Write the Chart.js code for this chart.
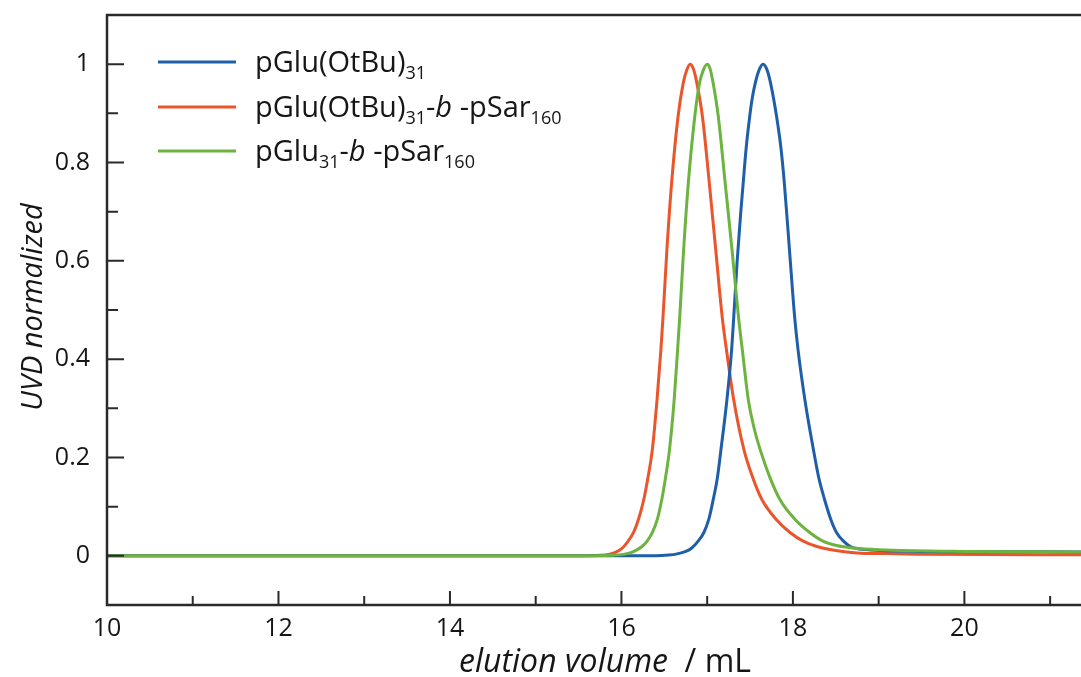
<!DOCTYPE html>
<html><head><meta charset="utf-8">
<script src="https://cdn.jsdelivr.net/npm/chart.js@4.4.1/dist/chart.umd.min.js"></script>
<style>html,body{margin:0;padding:0;background:#fff;overflow:hidden}#wrap{width:1081px;height:677px}</style>
</head><body><div id="wrap"><canvas id="c" width="1081" height="677"></canvas></div>
<script>
// ---- data ----
const xTicks = [10, 12, 14, 16, 18, 20];
const xMinorTicks = [11, 13, 15, 17, 19, 21];
const yTicks = [0, 0.2, 0.4, 0.6, 0.8, 1];
const yTickLabels = ['0', '0.2', '0.4', '0.6', '0.8', '1'];
const yMinorTicks = [0.1, 0.3, 0.5, 0.7, 0.9];
const xRange = [10, 21.36];
const yRange = [-0.1, 1.1];

const seriesNames = ['pGlu(OtBu)31', 'pGlu(OtBu)31-b -pSar160', 'pGlu31-b -pSar160'];

// pGlu(OtBu)31 (blue)
const blueX = [10, 16.4, 16.55, 16.65, 16.75, 16.82, 16.89, 16.96, 17.02, 17.07, 17.12, 17.16, 17.23, 17.285, 17.31, 17.35, 17.39, 17.42, 17.455, 17.49, 17.525, 17.56, 17.605, 17.65,
               17.695, 17.74, 17.81, 17.86, 17.90, 17.96, 18.02, 18.06, 18.14, 18.24, 18.30, 18.37, 18.44, 18.51, 18.59, 18.67, 18.78, 18.9, 19.5, 21.4];
const blueY = [0, 0, 0.0015, 0.004, 0.009, 0.016, 0.029, 0.047, 0.075, 0.114, 0.16, 0.215, 0.317, 0.419, 0.486, 0.60, 0.695, 0.758, 0.83, 0.885, 0.93, 0.961, 0.988, 1.0,
               0.99, 0.961, 0.893, 0.83, 0.758, 0.622, 0.486, 0.419, 0.317, 0.215, 0.16, 0.114, 0.075, 0.047, 0.03, 0.019, 0.014, 0.012, 0.009, 0.008];

// pGlu(OtBu)31-b-pSar160 (red)
const redX = [10, 15.5, 15.75, 15.85, 15.93, 16.0, 16.07, 16.14, 16.2, 16.26, 16.31, 16.36, 16.415, 16.46, 16.485, 16.53, 16.585, 16.66, 16.72, 16.76, 16.80,
              16.84, 16.88, 16.945, 17.025, 17.10, 17.175, 17.225, 17.31, 17.43, 17.53, 17.64, 17.8, 17.97, 18.12, 18.28, 18.5, 18.75, 19.1, 19.5, 21.4];
const redY = [0, 0, 0.001, 0.003, 0.007, 0.014, 0.028, 0.047, 0.075, 0.114, 0.16, 0.215, 0.317, 0.419, 0.486, 0.622, 0.758, 0.893, 0.961, 0.987, 1.0,
              0.99, 0.961, 0.893, 0.758, 0.622, 0.486, 0.419, 0.317, 0.215, 0.16, 0.114, 0.075, 0.047, 0.03, 0.019, 0.011, 0.006, 0.0045, 0.003, 0.002];

// pGlu31-b-pSar160 (green)
const greenX = [10, 15.7, 15.9, 16.02, 16.1, 16.17, 16.24, 16.3, 16.36, 16.42, 16.47, 16.515, 16.56, 16.615, 16.655, 16.68, 16.725, 16.78, 16.855, 16.91, 16.955, 17.0,
                17.035, 17.07, 17.13, 17.21, 17.29, 17.365, 17.41, 17.48, 17.55, 17.62, 17.73, 17.85, 18.02, 18.20, 18.35, 18.51, 18.7, 19.0, 20, 21.4];
const greenY = [0, 0, 0.001, 0.003, 0.006, 0.011, 0.019, 0.03, 0.047, 0.075, 0.114, 0.16, 0.215, 0.317, 0.419, 0.486, 0.622, 0.758, 0.893, 0.961, 0.988, 1.0,
                0.99, 0.961, 0.893, 0.758, 0.622, 0.486, 0.419, 0.317, 0.258, 0.215, 0.16, 0.114, 0.075, 0.047, 0.03, 0.021, 0.016, 0.0125, 0.009, 0.008];

const colors = ['#1f5ea8', '#ea552c', '#6cb33f'];

// legend text runs (subscripts / italics)
const legendRuns = [
  [{t:'pGlu(OtBu)'}, {t:'31', sub:true}],
  [{t:'pGlu(OtBu)'}, {t:'31', sub:true}, {t:'-'}, {t:'b', i:true}, {t:' -pSar'}, {t:'160', sub:true}],
  [{t:'pGlu'}, {t:'31', sub:true}, {t:'-'}, {t:'b', i:true}, {t:' -pSar'}, {t:'160', sub:true}]
];
const xTitleRuns = [{t:'elution volume', i:true}, {t:'  / mL'}];
const yTitle = 'UVD normalized';

// ---- build ----
const FAMILY = '"Open Sans", "DejaVu Sans", sans-serif';
const INK = '#161616';
const toPts = (xs, ys) => xs.map((x, k) => ({x, y: ys[k]}));

function drawRuns(ctx, runs, x, y, size, subSize, subOff, align) {
  const font = r => `${r.i ? 'italic ' : ''}${r.sub ? subSize : size}px ${FAMILY}`;
  let total = 0;
  const ws = runs.map(r => { ctx.font = font(r); const w = ctx.measureText(r.t).width; total += w; return w; });
  if (align === 'center') x -= total / 2;
  runs.forEach((r, k) => {
    ctx.font = font(r);
    ctx.fillText(r.t, x, y + (r.sub ? subOff : 0));
    x += ws[k];
  });
}

const framePlugin = {
  id: 'frame',
  afterDatasetsDraw(chart) {
    const {ctx, chartArea: a, scales: {x, y}} = chart;
    ctx.save();
    ctx.strokeStyle = '#2a2a2a';
    ctx.lineWidth = 2.5;
    ctx.beginPath();
    ctx.moveTo(a.right + 2, a.top); ctx.lineTo(a.left, a.top);
    ctx.lineTo(a.left, a.bottom); ctx.lineTo(a.right + 2, a.bottom);
    ctx.stroke();
    ctx.lineWidth = 2;
    ctx.beginPath();
    xTicks.forEach(v => { const p = x.getPixelForValue(v); ctx.moveTo(p, a.bottom); ctx.lineTo(p, a.bottom - 14); });
    xMinorTicks.forEach(v => { const p = x.getPixelForValue(v); if (p < a.right) { ctx.moveTo(p, a.bottom); ctx.lineTo(p, a.bottom - 9); } });
    yTicks.forEach(v => { const p = y.getPixelForValue(v); ctx.moveTo(a.left, p); ctx.lineTo(a.left + 17, p); });
    yMinorTicks.forEach(v => { const p = y.getPixelForValue(v); ctx.moveTo(a.left, p); ctx.lineTo(a.left + 11, p); });
    ctx.stroke();
    ctx.restore();
  },
  afterDraw(chart) {
    const {ctx} = chart;
    ctx.save();
    ctx.fillStyle = INK;
    ctx.textBaseline = 'alphabetic';
    ctx.textAlign = 'left';
    // legend
    const ly = [62, 107, 151];
    legendRuns.forEach((runs, k) => {
      ctx.strokeStyle = colors[k];
      ctx.lineWidth = 3;
      ctx.beginPath(); ctx.moveTo(158, ly[k]); ctx.lineTo(236, ly[k]); ctx.stroke();
      drawRuns(ctx, runs, 255, ly[k] + 10, 29, 18, 7, 'left');
    });
    // x title
    drawRuns(ctx, xTitleRuns, 605, 672, 32, 18, 0, 'center');
    // y title
    ctx.translate(42, 307);
    ctx.rotate(-Math.PI / 2);
    ctx.font = `italic 29px ${FAMILY}`;
    ctx.textAlign = 'center';
    ctx.fillText(yTitle, 0, 0);
    ctx.restore();
  }
};

new Chart(document.getElementById('c'), {
  type: 'line',
  data: {
    datasets: [
      {label: seriesNames[0], data: toPts(blueX, blueY), borderColor: colors[0], order: 1},
      {label: seriesNames[1], data: toPts(redX, redY), borderColor: colors[1], order: 2},
      {label: seriesNames[2], data: toPts(greenX, greenY), borderColor: colors[2], order: 0}
    ].map(d => Object.assign(d, {borderWidth: 3, pointRadius: 0, fill: false, cubicInterpolationMode: 'monotone'}))
  },
  options: {
    responsive: false,
    animation: false,
    devicePixelRatio: 1,
    layout: {padding: {top: 15, right: 0, left: 0, bottom: 0}},
    plugins: {legend: {display: false}, tooltip: {enabled: false}},
    scales: {
      x: {
        type: 'linear', min: xRange[0], max: xRange[1],
        afterBuildTicks: s => { s.ticks = xTicks.map(v => ({value: v})); },
        afterFit: s => { s.height = 72; s.paddingLeft = 0; s.paddingRight = 0; },
        grid: {display: false, drawTicks: false},
        border: {display: false},
        ticks: {color: INK, font: {family: FAMILY, size: 25}, padding: 9, autoSkip: false, maxRotation: 0,
                callback: v => String(v)}
      },
      y: {
        type: 'linear', min: yRange[0], max: yRange[1],
        afterBuildTicks: s => { s.ticks = yTicks.map(v => ({value: v})); },
        afterFit: s => { s.width = 107; s.paddingTop = 0; s.paddingBottom = 0; },
        grid: {display: false, drawTicks: false},
        border: {display: false},
        ticks: {color: INK, font: {family: FAMILY, size: 25}, padding: 17,
                callback: v => yTickLabels[yTicks.indexOf(v)] ?? ''}
      }
    }
  },
  plugins: [framePlugin]
});
</script>
</body></html>
